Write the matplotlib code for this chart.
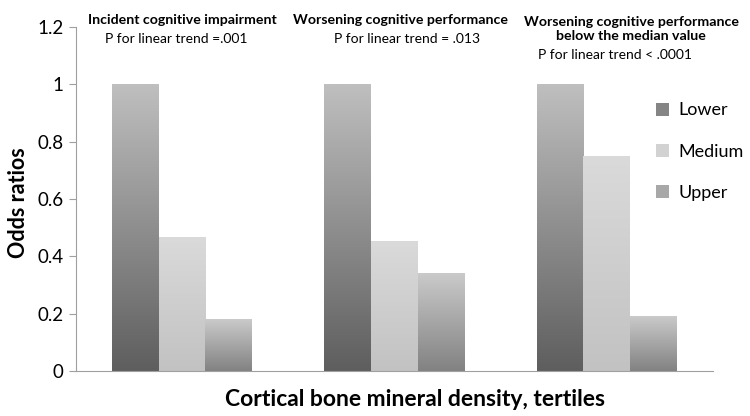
import numpy as np
import matplotlib
matplotlib.use('Agg')
import matplotlib.pyplot as plt
from matplotlib.patches import Patch
from matplotlib.colors import LinearSegmentedColormap

plt.rcParams['font.family'] = ['Lato', 'DejaVu Sans']

groups = ['Incident cognitive impairment',
          'Worsening cognitive performance',
          'Worsening cognitive performance\nbelow the median value']
ptrend = ['P for linear trend =.001',
          'P for linear trend = .013',
          'P for linear trend < .0001']
tertiles = ['Lower', 'Medium', 'Upper']
lower = [1.0, 1.0, 1.0]
medium = [0.467, 0.453, 0.747]
upper = [0.18, 0.34, 0.19]

# bottom colour, top colour for each tertile
shades = {'Lower': ('#5e5e5e', '#bfbfbf'),
          'Medium': ('#c2c2c2', '#dadada'),
          'Upper': ('#828282', '#cacaca')}
legend_col = {'Lower': '#858585', 'Medium': '#d2d2d2', 'Upper': '#a8a8a8'}

fig = plt.figure(figsize=(7.5, 4.16), dpi=100)
ax = fig.add_axes([0.1013, 0.1082, 0.8493, 0.8269])

x = np.arange(len(groups))
w = 0.22
grad = np.linspace(0, 1, 256).reshape(-1, 1)
for i, (name, vals) in enumerate(zip(tertiles, [lower, medium, upper])):
    cmap = LinearSegmentedColormap.from_list(name, shades[name])
    bars = ax.bar(x + (i - 1) * w, vals, w, color='none', edgecolor='none')
    for b in bars:
        x0, h = b.get_x(), b.get_height()
        ax.imshow(grad, cmap=cmap, origin='lower', aspect='auto',
                  extent=[x0, x0 + w, 0, h], zorder=2)

ax.set_xlim(-0.5, 2.5)
ax.set_ylim(0, 1.2)
ax.set_yticks(np.arange(0, 1.21, 0.2))
ax.set_yticklabels(['0', '0.2', '0.4', '0.6', '0.8', '1', '1.2'], fontsize=13.5)
ax.set_xticks([])
for s in ['top', 'right']:
    ax.spines[s].set_visible(False)
ax.spines['left'].set_color('#a0a0a0')
ax.spines['bottom'].set_color('#a0a0a0')
ax.tick_params(axis='y', color='#a0a0a0', length=5, pad=4)

ax.set_ylabel('Odds ratios', fontsize=15.5, fontweight='bold', va='center')
ax.yaxis.set_label_coords(-0.09, 0.49)
ax.set_xlabel('Cortical bone mineral density, tertiles', fontsize=16.5,
              fontweight='bold', va='center')
ax.xaxis.set_label_coords(0.532, -0.084)

title_x = [0.0, 1.03, 2.115]
p_x = [-0.03, 1.06, 2.04]
for gx, px, g, p in zip(title_x, p_x, groups, ptrend):
    ty = 1.193 if '\n' in g else 1.224
    ax.text(gx, ty, g, ha='center', va='center', fontsize=10.2,
            fontweight='bold', linespacing=1.25, clip_on=False)
    py = 1.158 if '\n' not in g else 1.102
    ax.text(px, py, p, ha='center', va='center', fontsize=10, clip_on=False)

handles = [Patch(facecolor=legend_col[t], edgecolor='none') for t in tertiles]
ax.legend(handles, tertiles, loc='upper left', bbox_to_anchor=(0.885, 0.828),
          frameon=False, fontsize=13, labelspacing=1.4, handlelength=0.75,
          handleheight=0.75, handletextpad=0.5)

fig.savefig('out.png', dpi=100)
